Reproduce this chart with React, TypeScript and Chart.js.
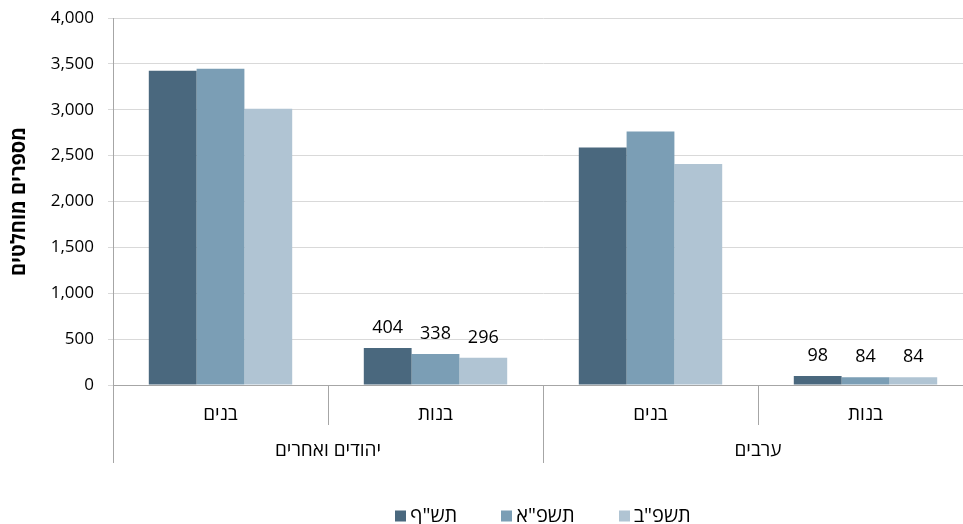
import { useEffect, useRef } from 'react';
import { Chart, registerables } from 'chart.js';

Chart.register(...registerables);

const FONT = "'Open Sans', 'DejaVu Sans', sans-serif";

const groups = ['יהודים ואחרים', 'ערבים'];
const categories = ['בנים', 'בנות', 'בנים', 'בנות'];
const categoryGroup = [0, 0, 1, 1];
const seriesNames = ['תש"ף', 'תשפ"א', 'תשפ"ב'];
const seriesColors = ['#4a687e', '#7b9eb5', '#b0c4d3'];
const valuesTashpaf = [3425, 404, 2588, 98];
const valuesTashpaa = [3448, 338, 2762, 84];
const valuesTashpab = [3012, 296, 2408, 84];
const labeledCategories = [1, 3];
const yTitle = 'מספרים מוחלטים';

const decorPlugin = {
  id: 'decor',
  afterDraw(chart: any) {
    const ctx = chart.ctx as CanvasRenderingContext2D;
    const xs = chart.scales.x;
    const area = chart.chartArea;
    ctx.save();
    // value labels
    ctx.font = `18px ${FONT}`;
    ctx.fillStyle = '#000';
    ctx.textAlign = 'center';
    ctx.textBaseline = 'middle';
    chart.data.datasets.forEach((ds: any, di: number) => {
      const meta = chart.getDatasetMeta(di);
      labeledCategories.forEach((ci) => {
        const el = meta.data[ci];
        ctx.fillText(String(ds.data[ci]), el.x, el.y - 20);
      });
    });
    // separators
    ctx.strokeStyle = '#a6a6a6';
    ctx.lineWidth = 1;
    ctx.beginPath();
    const n = categories.length;
    for (let i = 0; i <= n; i++) {
      const px = Math.round(xs.getPixelForValue(i - 0.5)) + 0.5;
      const isGroup = i === 0 || i === n || categoryGroup[i] !== categoryGroup[i - 1];
      ctx.moveTo(px, area.bottom);
      ctx.lineTo(px, area.bottom + (isGroup ? 78 : 40));
    }
    ctx.stroke();
    // group labels
    ctx.font = `19px ${FONT}`;
    ctx.fillStyle = '#000';
    groups.forEach((g, gi) => {
      const idx = categoryGroup.map((c, i) => (c === gi ? i : -1)).filter((i) => i >= 0);
      const cx = (xs.getPixelForValue(idx[0]) + xs.getPixelForValue(idx[idx.length - 1])) / 2;
      ctx.fillText(g, cx, area.bottom + 66);
    });
    // legend
    ctx.font = `20px ${FONT}`;
    const box = 11;
    const gapBoxText = 4;
    const gapItems = 44;
    const widths = seriesNames.map((s) => ctx.measureText(s).width);
    const total = widths.reduce((a, w) => a + box + gapBoxText + w, 0) + gapItems * (seriesNames.length - 1);
    let x = (area.left + area.right) / 2 - total / 2;
    const ly = 516;
    ctx.textAlign = 'left';
    seriesNames.forEach((s, i) => {
      ctx.fillStyle = seriesColors[i];
      ctx.fillRect(Math.round(x), ly - 5.5, box, box);
      x += box + gapBoxText;
      ctx.fillStyle = '#000';
      ctx.fillText(s, x, ly);
      x += widths[i] + gapItems;
    });
    ctx.restore();
  },
};

export default function App() {
  const ref = useRef<HTMLCanvasElement | null>(null);
  useEffect(() => {
    if (!ref.current) return;
    const chart = new Chart(ref.current, {
      type: 'bar',
      data: {
        labels: categories,
        datasets: [valuesTashpaf, valuesTashpaa, valuesTashpab].map((d, i) => ({
          label: seriesNames[i],
          data: d,
          backgroundColor: seriesColors[i],
          borderWidth: 0,
          barPercentage: 1,
          categoryPercentage: 0.667,
        })),
      },
      options: {
        responsive: false,
        animation: false,
        devicePixelRatio: 1,
        layout: { padding: { top: 18, left: 0, right: 0, bottom: 0 } },
        plugins: {
          legend: { display: false },
          tooltip: { enabled: false },
        },
        scales: {
          x: {
            grid: { drawOnChartArea: false, drawTicks: false },
            border: { display: true, color: '#a6a6a6' },
            ticks: { font: { family: FONT, size: 19 }, color: '#000', padding: 18 },
            afterFit: (s: any) => {
              s.height = 139;
              s.paddingLeft = 0;
              s.paddingRight = 0;
            },
          },
          y: {
            min: 0,
            max: 4000,
            ticks: {
              stepSize: 500,
              font: { family: FONT, size: 17 },
              color: '#000',
              padding: 14,
              callback: (v: any) => Number(v).toLocaleString('en-US'),
            },
            grid: { color: '#d9d9d9', tickLength: 5 },
            border: { display: true, color: '#a6a6a6' },
            title: {
              display: true,
              text: yTitle,
              font: { family: FONT, size: 20, weight: 'bold' },
              color: '#000',
              padding: { top: 7, bottom: 0 },
            },
            afterFit: (s: any) => {
              s.width = 113;
              s.paddingTop = 0;
              s.paddingBottom = 0;
            },
          },
        },
      },
      plugins: [decorPlugin],
    });
    return () => chart.destroy();
  }, []);
  return (
    <div style={{ position: 'fixed', left: 0, top: 0, width: 963, height: 524, overflow: 'hidden', background: '#fff' }}>
      <canvas ref={ref} width={973} height={524} style={{ display: 'block' }} />
    </div>
  );
}
